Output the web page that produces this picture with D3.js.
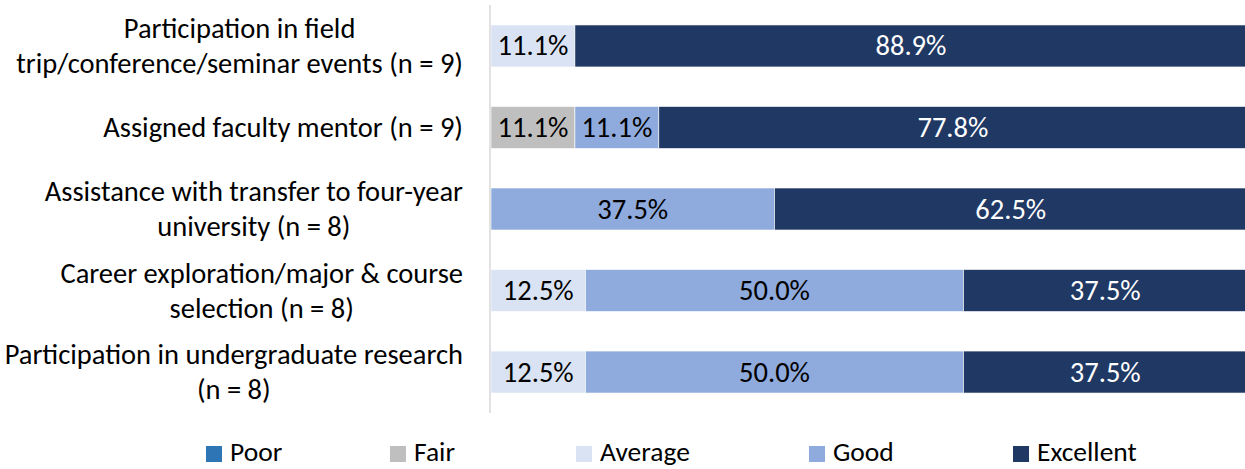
<!DOCTYPE html>
<html>
<head>
<meta charset="utf-8">
<script src="https://cdnjs.cloudflare.com/ajax/libs/d3/7.8.5/d3.min.js"></script>
<style>
  body { margin: 0; background: #fff; }
  svg { display: block; }
  text { font-family: Carlito, Lato, "Open Sans", sans-serif; }
</style>
</head>
<body>
<script>
// chart data
var categories = [
  ["Participation in field", "trip/conference/seminar events (n = 9)"],
  ["Assigned faculty mentor (n = 9)"],
  ["Assistance with transfer to four-year", "university (n = 8)"],
  ["Career exploration/major & course", "selection (n = 8)"],
  ["Participation in undergraduate research", "(n = 8)"]
];
var seriesNames = ["Poor", "Fair", "Average", "Good", "Excellent"];
var poor      = [0, 0, 0, 0, 0];
var fair      = [0, 11.1, 0, 0, 0];
var average   = [11.1, 0, 0, 12.5, 12.5];
var good      = [0, 11.1, 37.5, 50.0, 50.0];
var excellent = [88.9, 77.8, 62.5, 37.5, 37.5];

var colors = ["#2E75B6", "#BFBFBF", "#DAE3F3", "#8FAADC", "#203864"];
var labelColors = ["#fff", "#000", "#000", "#000", "#fff"];

var w = 1245, h = 469;
var fontSize = 28.5;

var svg = d3.select("body").append("svg")
  .attr("width", w)
  .attr("height", h);

var x = d3.scaleLinear().domain([0, 100]).range([491, 1247]);
var y = d3.scaleBand()
  .domain(d3.range(categories.length))
  .range([5, 413])
  .paddingInner(0.485)
  .paddingOuter(0.245);

// build stacked rows
var seriesVals = [poor, fair, average, good, excellent];
var rows = categories.map(function(c, i) {
  var obj = { idx: i };
  seriesNames.forEach(function(s, k) { obj[s] = seriesVals[k][i]; });
  return obj;
});
var stack = d3.stack().keys(seriesNames)(rows);

var layers = svg.selectAll(".layer")
  .data(stack)
  .enter().append("g")
  .attr("class", "layer");

layers.each(function(layer, k) {
  var g = d3.select(this);
  var segs = layer.filter(function(d) { return d[1] - d[0] > 0; });

  g.selectAll("rect")
    .data(segs)
    .enter().append("rect")
    .attr("x", function(d) { return x(d[0]); })
    .attr("y", function(d) { return y(d.data.idx); })
    .attr("width", function(d) { return x(d[1]) - x(d[0]); })
    .attr("height", y.bandwidth())
    .style("fill", colors[k])
    .style("stroke", "#fff")
    .style("stroke-width", 0.6);

  g.selectAll("text")
    .data(segs)
    .enter().append("text")
    .attr("x", function(d) { return (x(d[0]) + x(d[1])) / 2; })
    .attr("y", function(d) { return y(d.data.idx) + y.bandwidth() / 2; })
    .attr("text-anchor", "middle")
    .attr("dominant-baseline", "central")
    .attr("font-size", fontSize)
    .attr("fill", labelColors[k])
    .text(function(d) { return (d[1] - d[0]).toFixed(1) + "%"; });
});

// vertical axis line
svg.append("line")
  .attr("x1", 490).attr("x2", 490)
  .attr("y1", 5).attr("y2", 413)
  .style("stroke", "#D9D9D9")
  .style("stroke-width", 1.5);

// category labels, lines centred on each other, block right-aligned
var lineH = 35, labelRight = 463;
categories.forEach(function(lines, i) {
  var g = svg.append("g");
  var cy = y(i) + y.bandwidth() / 2;
  var t = g.selectAll("text")
    .data(lines)
    .enter().append("text")
    .attr("y", function(d, j) { return cy + (j - (lines.length - 1) / 2) * lineH; })
    .attr("text-anchor", "middle")
    .attr("dominant-baseline", "central")
    .attr("font-size", fontSize)
    .attr("fill", "#000")
    .text(function(d) { return d; });
  var maxW = 0;
  t.each(function() { maxW = Math.max(maxW, this.getComputedTextLength()); });
  t.attr("x", labelRight - maxW / 2);
});

// legend
var legendX = [206, 390, 576, 809, 1013];
var legend = svg.selectAll(".legend")
  .data(seriesNames)
  .enter().append("g")
  .attr("class", "legend")
  .attr("transform", function(d, i) { return "translate(" + legendX[i] + ",0)"; });

legend.append("rect")
  .attr("x", 0).attr("y", 446)
  .attr("width", 16).attr("height", 16)
  .style("fill", function(d, i) { return colors[i]; });

legend.append("text")
  .attr("x", 24)
  .attr("y", 461)
  .attr("font-size", 27.5)
  .attr("fill", "#000")
  .text(function(d) { return d; });
</script>
</body>
</html>
